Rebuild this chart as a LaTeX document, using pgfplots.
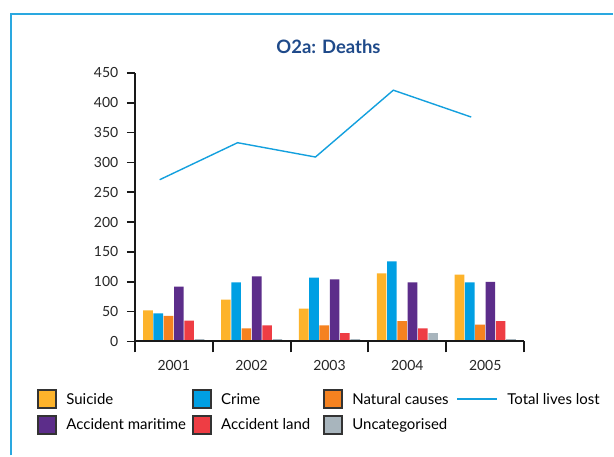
\documentclass[border=0pt]{standalone}
\usepackage{pgfplots}
\pgfplotsset{compat=1.18}
\usepackage{fontspec}
\setmainfont{Lato}
\definecolor{cSui}{HTML}{FDB32B}
\definecolor{cCri}{HTML}{009FE3}
\definecolor{cNat}{HTML}{F58220}
\definecolor{cMar}{HTML}{5C2D8A}
\definecolor{cLan}{HTML}{EE3D44}
\definecolor{cUnc}{HTML}{A8B5BD}
\definecolor{cLine}{HTML}{13A0DE}
\definecolor{cTitle}{HTML}{1F4A8A}
\definecolor{cFrame}{HTML}{2AA8E0}
\definecolor{cGrid}{HTML}{CBE6F6}
\pgfplotsset{
  sqleg/.style={legend image code/.code={%
    \path[draw=none,fill=none] (0pt,-10pt) rectangle (20pt,10pt);
    \draw[draw=black!80,line width=2pt,fill=#1] (1pt,-9pt) rectangle (19pt,9pt);}},
  lnleg/.style={legend image code/.code={%
    \path[draw=none,fill=none] (0pt,-10pt) rectangle (40pt,10pt);
    \draw[cLine,line width=1.7pt] (0pt,0pt) -- (40pt,0pt);}},
}
\begin{document}
\begin{tikzpicture}
\fill[white] (0pt,0pt) rectangle (614pt,456pt);
\draw[cFrame,line width=2pt] (11pt,0pt) -- (11pt,442pt) -- (614pt,442pt);
\node[font=\fontsize{18.5pt}{21pt}\selectfont\bfseries,text=cTitle] at (329pt,409pt) {O2a: Deaths};
\begin{axis}[
  at={(135pt,114pt)}, anchor=south west,
  scale only axis, width=390pt, height=269pt,
  xmin=-0.5, xmax=4.5, ymin=0, ymax=450,
  axis x line*=bottom, axis y line*=left,
  axis line style={line width=2pt, black!90},
  set layers, axis on top,
  ymajorgrids,
  major grid style={cGrid, line width=1.3pt, /pgfplots/on layer=axis background},
  ytick={0,50,...,450},
  xtick={0,1,2,3,4},
  xticklabels={2001,2002,2003,2004,2005},
  minor xtick={-0.5,0.5,1.5,2.5,3.5,4.5},
  tick align=outside,
  major tick length=8pt, minor tick length=11pt,
  y tick style={line width=1.8pt, black!90},
  x tick style={draw=none},
  minor x tick style={draw=black!90, line width=2pt},
  tick label style={font=\fontsize{14pt}{16pt}\selectfont, text=black!85},
  yticklabel style={xshift=-5pt},
  xticklabel style={yshift=-7pt},
  /pgf/number format/assume math mode=true,
  legend columns=4,
  legend cell align=left,
  legend style={at={(-0.2513,-0.1784)}, anchor=north west, draw=none, fill=none,
    inner sep=0pt, outer sep=0pt, row sep=5.5pt,
    font=\fontsize{15pt}{17pt}\selectfont,
    cells={inner sep=0pt},
    /tikz/every odd column/.append style={column sep=7.5pt},
    /tikz/every even column/.append style={column sep=0pt}},
]
\addlegendimage{sqleg=cSui}\addlegendentry{\makebox[123.5pt][l]{Suicide}}
\addlegendimage{sqleg=cCri}\addlegendentry{\makebox[100pt][l]{Crime}}
\addlegendimage{sqleg=cNat}\addlegendentry{\makebox[102pt][l]{Natural causes}}
\addlegendimage{lnleg}\addlegendentry{Total lives lost}
\addlegendimage{sqleg=cMar}\addlegendentry{\makebox[123.5pt][l]{Accident maritime}}
\addlegendimage{sqleg=cLan}\addlegendentry{\makebox[100pt][l]{Accident land}}
\addlegendimage{sqleg=cUnc}\addlegendentry{\makebox[102pt][l]{Uncategorised}}

\addplot[forget plot, ybar, bar width=9.6pt, bar shift=-25.8pt, fill=cSui, draw=none]
  coordinates {(0,52) (1,70) (2,55) (3,114) (4,112)};
\addplot[forget plot, ybar, bar width=9.6pt, bar shift=-15.5pt, fill=cCri, draw=none]
  coordinates {(0,47) (1,99) (2,107) (3,134) (4,99)};
\addplot[forget plot, ybar, bar width=9.6pt, bar shift=-5.2pt, fill=cNat, draw=none]
  coordinates {(0,43) (1,22) (2,27) (3,34) (4,28)};
\addplot[forget plot, ybar, bar width=9.6pt, bar shift=5.2pt, fill=cMar, draw=none]
  coordinates {(0,92) (1,109) (2,104) (3,99) (4,100)};
\addplot[forget plot, ybar, bar width=9.6pt, bar shift=15.5pt, fill=cLan, draw=none]
  coordinates {(0,35) (1,27) (2,14) (3,22) (4,34)};
\addplot[forget plot, ybar, bar width=9.6pt, bar shift=25.8pt, fill=cUnc, draw=none]
  coordinates {(0,4) (1,4) (2,4) (3,14) (4,4)};
\addplot[forget plot, sharp plot, cLine, line width=1.4pt, mark=none]
  coordinates {(-0.18,271) (0.82,333) (1.82,309) (2.82,421) (3.82,376)};
\end{axis}
\end{tikzpicture}
\end{document}
